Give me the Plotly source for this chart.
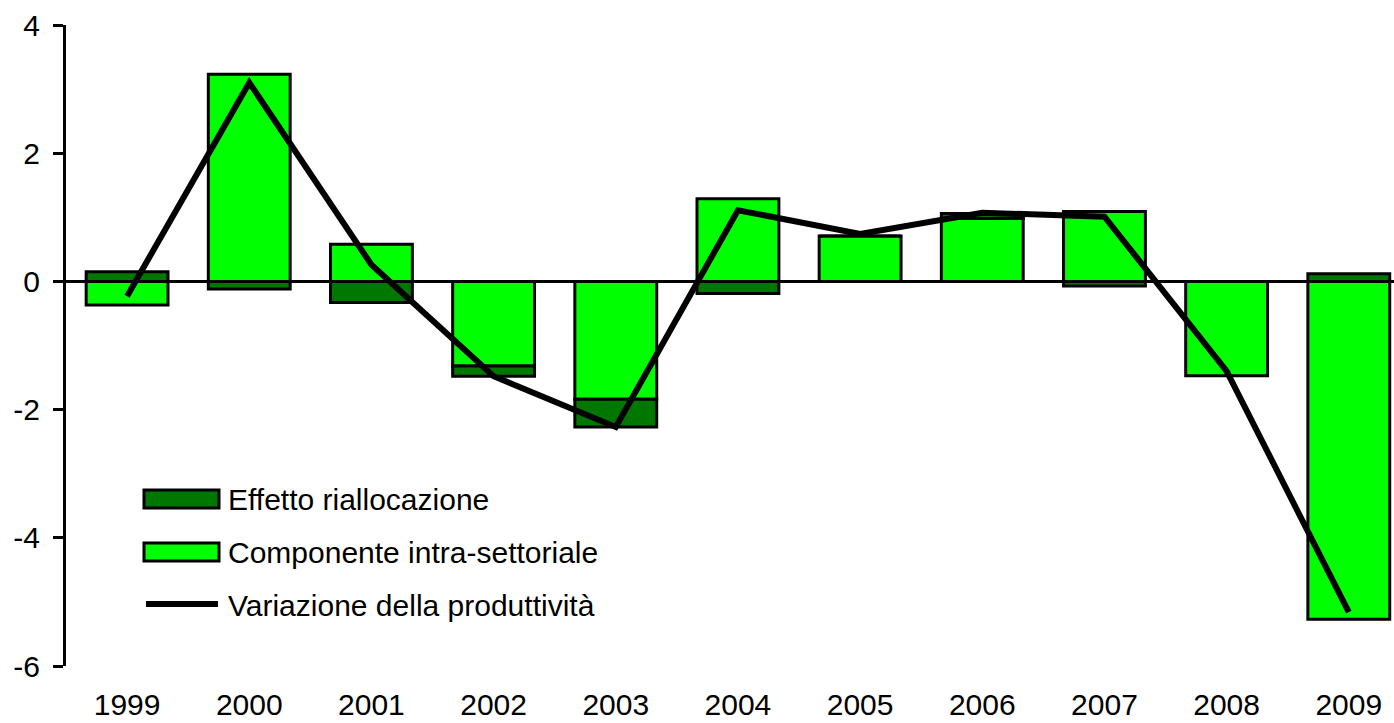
import plotly.graph_objects as go

years = ["1999", "2000", "2001", "2002", "2003", "2004", "2005", "2006", "2007", "2008", "2009"]
intra = [-0.37, 3.23, 0.58, -1.32, -1.84, 1.29, 0.71, 0.98, 1.09, -1.47, -5.27]
riallocazione = [0.15, -0.12, -0.33, -0.16, -0.43, -0.19, 0.0, 0.08, -0.07, 0.0, 0.12]
variazione = [-0.23, 3.10, 0.26, -1.48, -2.27, 1.11, 0.74, 1.07, 1.01, -1.40, -5.16]
names = ["Effetto riallocazione", "Componente intra-settoriale", "Variazione della produttività"]
y_ticks = [-6, -4, -2, 0, 2, 4]
y_tick_text = ["-6", "-4", "-2", "0", "2", "4"]

DARK = "#007800"
BRIGHT = "#00FF00"
FONT = "Liberation Sans, Arial, sans-serif"

W, H = 1394, 723
ML, MR, MT, MB = 66, 0, 25, 57
PW, PH = W - ML - MR, H - MT - MB

fig = go.Figure()
fig.add_trace(go.Bar(x=years, y=intra, name=names[1], marker=dict(color=BRIGHT, line=dict(color="black", width=3)), showlegend=False))
fig.add_trace(go.Bar(x=years, y=riallocazione, name=names[0], marker=dict(color=DARK, line=dict(color="black", width=3)), showlegend=False))
fig.add_trace(go.Scatter(x=years, y=variazione, name=names[2], mode="lines", line=dict(color="black", width=6), showlegend=False))

def px_x(p):
    return (p - ML) / PW

def px_y(p):
    return (H - MB - p) / PH

shapes = []
annotations = []
# manual legend
legend_rows = [(names[0], DARK, 499), (names[1], BRIGHT, 552), (names[2], None, 605)]
for label, color, cy in legend_rows:
    if color is not None:
        shapes.append(dict(type="rect", xref="paper", yref="paper",
                           x0=px_x(144), x1=px_x(219), y0=px_y(cy - 9), y1=px_y(cy + 9),
                           fillcolor=color, line=dict(color="black", width=3)))
    else:
        shapes.append(dict(type="line", xref="paper", yref="paper",
                           x0=px_x(146), x1=px_x(218), y0=px_y(cy - 1), y1=px_y(cy - 1),
                           line=dict(color="black", width=6)))
    annotations.append(dict(text=label, xref="paper", yref="paper", x=px_x(226), y=px_y(cy),
                            xanchor="left", yanchor="middle", showarrow=False,
                            font=dict(family=FONT, size=30, color="black")))

fig.update_layout(
    width=W, height=H,
    margin=dict(l=ML, r=MR, t=MT, b=MB, pad=0),
    barmode="relative", bargap=0.33,
    plot_bgcolor="white", paper_bgcolor="white",
    font=dict(family=FONT, size=30, color="black"),
    shapes=shapes, annotations=annotations,
    xaxis=dict(type="category", range=[-0.5, 10.37], showgrid=False, showline=False,
               ticks="", ticklabelstandoff=18, tickfont=dict(size=30), automargin=False),
    yaxis=dict(range=[-6, 4], tickvals=y_ticks, ticktext=y_tick_text, showgrid=False, showline=True,
               linecolor="black", linewidth=3, ticks="outside", ticklen=10, tickwidth=2.5,
               tickcolor="black", zeroline=True, zerolinecolor="black", zerolinewidth=2.5,
               ticklabelstandoff=7, tickfont=dict(size=30), automargin=False),
)

fig.write_html("out.html", config={"displayModeBar": False},
               post_script="document.body.style.margin='0';document.body.style.overflow='hidden';")
